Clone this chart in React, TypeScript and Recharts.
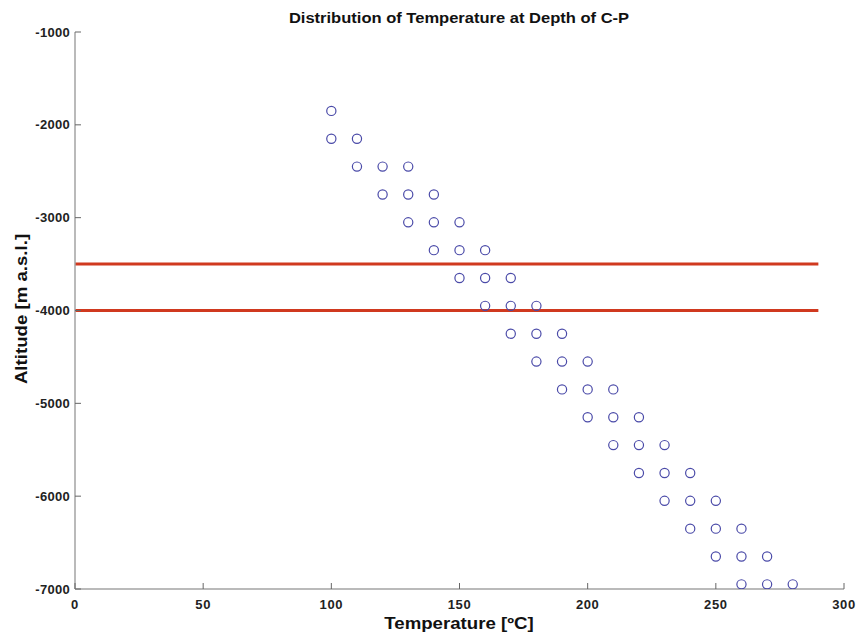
import { ScatterChart, Scatter, XAxis, YAxis, ReferenceLine } from "recharts";

// altitude of each row of measurements [m a.s.l.]
const altitudes = [
  -1850, -2150, -2450, -2750, -3050, -3350, -3650, -3950, -4250,
  -4550, -4850, -5150, -5450, -5750, -6050, -6350, -6650, -6950,
];

// temperatures read at each altitude row [ºC]
const rowTemps = [
  [100],
  [100, 110],
  [110, 120, 130],
  [120, 130, 140],
  [130, 140, 150],
  [140, 150, 160],
  [150, 160, 170],
  [160, 170, 180],
  [170, 180, 190],
  [180, 190, 200],
  [190, 200, 210],
  [200, 210, 220],
  [210, 220, 230],
  [220, 230, 240],
  [230, 240, 250],
  [240, 250, 260],
  [250, 260, 270],
  [260, 270, 280],
];

const xTicks = [0, 50, 100, 150, 200, 250, 300];
const yTicks = [-7000, -6000, -5000, -4000, -3000, -2000, -1000];

// C-P depth band limits
const bandLevels = [-3500, -4000];
const bandSpan = [0, 290];

const points = altitudes.flatMap((alt, i) => rowTemps[i].map((t) => ({ t, alt })));

const axisColor = "#a3a3a3";
const font = "'Liberation Sans', Arial, sans-serif";

const XTick = (props: any) => {
  const { x, y, payload } = props;
  const axisY = y - 2;
  return (
    <g>
      <line x1={x} x2={x} y1={axisY} y2={axisY - 6} stroke="#666" strokeWidth={1} />
      <text x={x} y={axisY + 20} textAnchor="middle" fontSize={13} fontWeight="bold" fill="#222" fontFamily={font} letterSpacing={0.6}>
        {payload.value}
      </text>
    </g>
  );
};

const YTick = (props: any) => {
  const { x, y, payload } = props;
  const axisX = x + 2;
  return (
    <g>
      <line x1={axisX} x2={axisX + 6} y1={y} y2={y} stroke="#666" strokeWidth={1} />
      <text x={axisX - 5} y={y + 4.5} textAnchor="end" fontSize={13} fontWeight="bold" fill="#222" fontFamily={font} letterSpacing={0.3}>
        {payload.value}
      </text>
    </g>
  );
};

const Ring = (props: any) => {
  const { cx, cy } = props;
  return <circle cx={cx} cy={cy} r={4.6} fill="none" stroke="#4a4aa8" strokeWidth={1.2} />;
};

export default function App() {
  return (
    <div style={{ position: "relative", width: 856, height: 636, background: "#fff", fontFamily: font }}>
      <style>{`body{margin:0}`}</style>
      <ScatterChart width={856} height={636} margin={{ top: 32, right: 12, bottom: 0, left: 0 }}>
        <XAxis
          type="number"
          dataKey="t"
          domain={[0, 300]}
          ticks={xTicks}
          height={47}
          tickSize={0}
          tickMargin={2}
          tick={<XTick />}
          stroke={axisColor}
          strokeWidth={1.5}
          allowDataOverflow
        />
        <YAxis
          type="number"
          dataKey="alt"
          domain={[-7000, -1000]}
          ticks={yTicks}
          width={75}
          tickSize={0}
          tickMargin={2}
          tick={<YTick />}
          stroke={axisColor}
          strokeWidth={1.5}
          allowDataOverflow
        />
        {bandLevels.map((lv) => (
          <ReferenceLine
            key={lv}
            segment={[
              { x: bandSpan[0], y: lv },
              { x: bandSpan[1], y: lv },
            ]}
            stroke="#d0391f"
            strokeWidth={3}
          />
        ))}
        <Scatter data={points} shape={<Ring />} isAnimationActive={false} />
      </ScatterChart>
      <div
        style={{
          position: "absolute",
          left: 459,
          top: 18,
          transform: "translate(-50%, -50%) scaleX(1.18)",
          whiteSpace: "nowrap",
          fontSize: 14,
          fontWeight: "bold",
          color: "#111",
          lineHeight: "16px",
        }}
      >
        Distribution of Temperature at Depth of C-P
      </div>
      <div
        style={{
          position: "absolute",
          left: 459,
          top: 623,
          transform: "translate(-50%, -50%) scaleX(1.13)",
          whiteSpace: "nowrap",
          fontSize: 16.5,
          fontWeight: "bold",
          color: "#111",
          lineHeight: "19px",
        }}
      >
        Temperature [ºC]
      </div>
      <div
        style={{
          position: "absolute",
          left: 21,
          top: 309,
          transform: "translate(-50%, -50%) rotate(-90deg) scaleX(1.13)",
          whiteSpace: "nowrap",
          fontSize: 16.5,
          fontWeight: "bold",
          color: "#111",
          lineHeight: "19px",
        }}
      >
        Altitude [m a.s.l.]
      </div>
    </div>
  );
}
